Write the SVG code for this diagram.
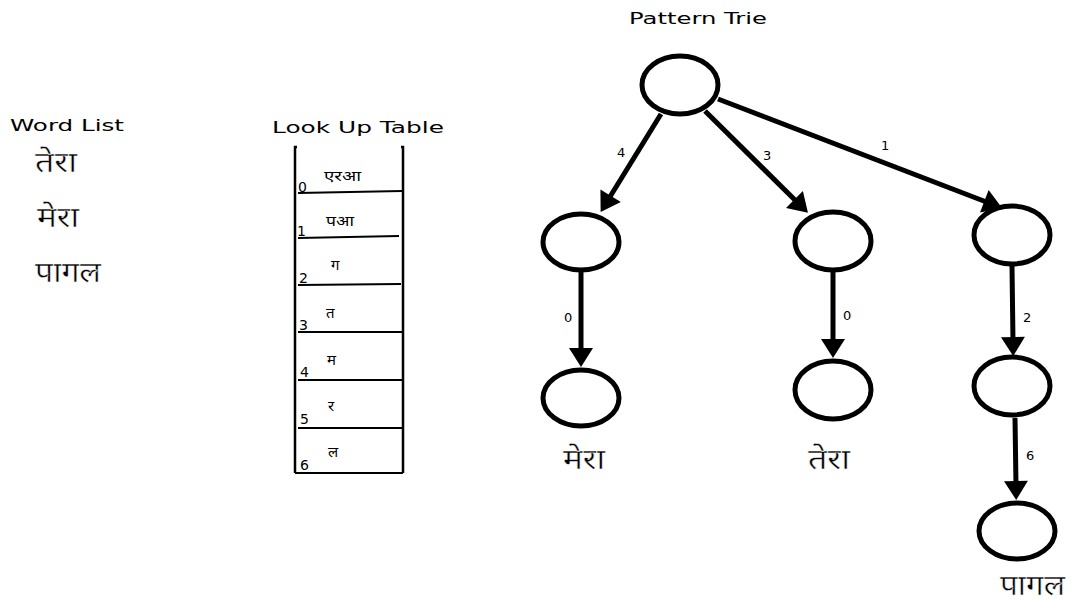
<svg xmlns="http://www.w3.org/2000/svg" width="1071" height="602" viewBox="0 0 1071 602">
  <style>
    .title { font-family: "DejaVu Sans", sans-serif; font-size: 15px; fill: #000; }
    .hi { font-family: "Noto Sans", "Noto Sans Devanagari", "DejaVu Sans", sans-serif; fill: #000; }
    .word { font-size: 28px; stroke: #fff; stroke-width: 0.4; }
    .cell { font-size: 15px; }
    .idx { font-family: "DejaVu Sans", sans-serif; font-size: 14px; fill: #000; }
    .elabel { font-family: "DejaVu Sans", sans-serif; font-size: 13px; fill: #000; }
    .node { fill: #fff; stroke: #000; stroke-width: 5; }
    .edge { stroke: #000; stroke-width: 5; fill: none; marker-end: url(#arrow); }
    .rule { stroke: #000; stroke-width: 2; fill: none; }
    .side { stroke: #000; stroke-width: 2.5; fill: none; }
  </style>
  <defs>
    <marker id="arrow" markerUnits="userSpaceOnUse" markerWidth="24" markerHeight="24" viewBox="0 0 19 24" refX="5" refY="12" orient="auto">
      <path d="M0,0 L19,12 L0,24 z" fill="#000"/>
    </marker>
  </defs>

  <!-- Word list -->
  <g id="word-list">
    <text class="title" x="10" y="131" textLength="114" lengthAdjust="spacingAndGlyphs">Word List</text>
    <text class="hi word" x="35" y="172" textLength="42" lengthAdjust="spacingAndGlyphs">तेरा</text>
    <text class="hi word" x="37" y="227" textLength="42" lengthAdjust="spacingAndGlyphs">मेरा</text>
    <text class="hi word" x="35" y="282" textLength="66" lengthAdjust="spacingAndGlyphs">पागल</text>
  </g>

  <!-- Look up table -->
  <g id="lookup-table">
    <text class="title" x="272" y="133" textLength="172" lengthAdjust="spacingAndGlyphs">Look Up Table</text>
    <polyline class="side" points="297,147 295,147 295,473"/>
    <polyline class="side" points="401,147 403,147 403,473"/>
    <line class="rule" x1="295" y1="473" x2="403" y2="473"/>
    <line class="rule" x1="298" y1="193" x2="402" y2="191"/>
    <line class="rule" x1="298" y1="238" x2="399" y2="236"/>
    <line class="rule" x1="298" y1="285" x2="401" y2="284"/>
    <line class="rule" x1="298" y1="332" x2="402" y2="332"/>
    <line class="rule" x1="298" y1="380" x2="402" y2="380"/>
    <line class="rule" x1="298" y1="428" x2="402" y2="428"/>
    <text class="idx" x="298" y="192">0</text>
    <text class="idx" x="297" y="236">1</text>
    <text class="idx" x="299" y="283">2</text>
    <text class="idx" x="299" y="330">3</text>
    <text class="idx" x="300" y="377">4</text>
    <text class="idx" x="300" y="424">5</text>
    <text class="idx" x="300" y="470">6</text>
    <text class="hi cell" x="324" y="181" textLength="37" lengthAdjust="spacingAndGlyphs">एरआ</text>
    <text class="hi cell" x="326" y="226" textLength="28" lengthAdjust="spacingAndGlyphs">पआ</text>
    <text class="hi cell" x="331" y="270">ग</text>
    <text class="hi cell" x="326" y="318">त</text>
    <text class="hi cell" x="327" y="365">म</text>
    <text class="hi cell" x="328" y="411">र</text>
    <text class="hi cell" x="328" y="457">ल</text>
  </g>

  <text class="title" x="629" y="24" textLength="138" lengthAdjust="spacingAndGlyphs">Pattern Trie</text>

  <!-- Trie connectors -->
  <g id="connectors">
    <line class="edge" x1="661" y1="114" x2="608" y2="200"/>
    <line class="edge" x1="705" y1="111" x2="798" y2="203"/>
    <line class="edge" x1="718" y1="99" x2="989" y2="203"/>
    <line class="edge" x1="581" y1="272" x2="581" y2="353"/>
    <line class="edge" x1="833" y1="271" x2="833" y2="344"/>
    <line class="edge" x1="1012" y1="266" x2="1013" y2="342"/>
    <line class="edge" x1="1015" y1="418" x2="1016" y2="486"/>
    <text class="elabel" x="617" y="157">4</text>
    <text class="elabel" x="763" y="160">3</text>
    <text class="elabel" x="881" y="150">1</text>
    <text class="elabel" x="564" y="322">0</text>
    <text class="elabel" x="843" y="320">0</text>
    <text class="elabel" x="1023" y="322">2</text>
    <text class="elabel" x="1026" y="460">6</text>
  </g>

  <!-- Trie nodes -->
  <g id="root"><ellipse class="node" cx="680" cy="85" rx="38" ry="29"/></g>
  <g id="n-4"><ellipse class="node" cx="581" cy="242" rx="38" ry="28"/></g>
  <g id="n-3"><ellipse class="node" cx="833" cy="241" rx="38" ry="29"/></g>
  <g id="n-1"><ellipse class="node" cx="1012" cy="235" rx="38" ry="29"/></g>
  <g id="n-40"><ellipse class="node" cx="581" cy="398" rx="38" ry="28"/>
    <text class="hi word" x="563" y="469" textLength="42" lengthAdjust="spacingAndGlyphs">मेरा</text></g>
  <g id="n-30"><ellipse class="node" cx="833" cy="390" rx="38" ry="29"/>
    <text class="hi word" x="808" y="469" textLength="42" lengthAdjust="spacingAndGlyphs">तेरा</text></g>
  <g id="n-12"><ellipse class="node" cx="1012" cy="386" rx="38" ry="29"/></g>
  <g id="n-126"><ellipse class="node" cx="1017" cy="531" rx="38" ry="28"/>
    <text class="hi word" x="1000" y="595" textLength="65" lengthAdjust="spacingAndGlyphs">पागल</text></g>
</svg>
